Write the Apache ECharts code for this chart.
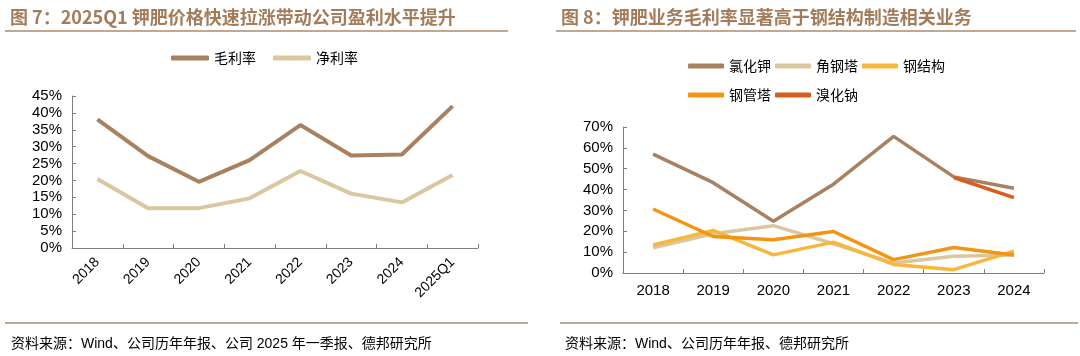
<!DOCTYPE html>
<html><head><meta charset="utf-8">
<script src="https://cdn.jsdelivr.net/npm/echarts@6/dist/echarts.min.js"></script>
<style>html,body{margin:0;padding:0;background:#fff}#c{width:1080px;height:356px}</style>
</head><body><div id="c"></div>
<script>
// Left chart data
const leftCategories = ['2018','2019','2020','2021','2022','2023','2024','2025Q1'];
const grossMargin = [38.1, 27.2, 19.6, 26.0, 36.4, 27.4, 27.7, 42.0];
const netMargin = [20.4, 11.8, 11.8, 14.7, 22.8, 16.1, 13.5, 21.6];
// Right chart data
const rightCategories = ['2018','2019','2020','2021','2022','2023','2024'];
const kcl = [57.0, 43.3, 24.8, 42.6, 65.5, 46.1, 40.6];
const angleTower = [12.1, 18.8, 22.7, 14.0, 4.8, 8.0, 8.6];
const steelStructure = [13.4, 20.4, 8.7, 14.8, 4.1, 1.6, 10.5];
const pipeTower = [30.7, 17.5, 15.9, 19.9, 6.4, 12.2, 8.6];
const nabr = [null, null, null, null, null, 45.8, 36.1];

const brown = '#A88160', beige = '#D9C7A0', yellow = '#F6B73C', orange = '#F39512', red = '#D85B1F';
const titleColor = '#A27C5B';
const cjk = "'Noto Sans CJK SC', sans-serif";
const num = "'Liberation Sans', Arial, sans-serif";

const chart = echarts.init(document.getElementById('c'), null, {renderer: 'canvas'});
const axisLine = {show: true, lineStyle: {color: '#7f7f7f', width: 1}};
const yLabel = {formatter: '{value}%', color: '#000', fontFamily: num, fontSize: 15, margin: 10};
const srcStyle = {color: '#000', fontSize: 14, fontWeight: 'normal', fontFamily: "'Liberation Sans', " + cjk};
chart.setOption({
  animation: false,
  title: [
    {text: '图 7：2025Q1 钾肥价格快速拉涨带动公司盈利水平提升', left: 5, top: 3,
     textStyle: {color: titleColor, fontSize: 18, fontWeight: 'bold', fontFamily: cjk}},
    {text: '图 8：钾肥业务毛利率显著高于钢结构制造相关业务', left: 556, top: 3,
     textStyle: {color: titleColor, fontSize: 18, fontWeight: 'bold', fontFamily: cjk}},
    {text: '资料来源：Wind、公司历年年报、公司 2025 年一季报、德邦研究所', left: 6, top: 332, textStyle: srcStyle},
    {text: '资料来源：Wind、公司历年年报、德邦研究所', left: 560, top: 332, textStyle: srcStyle}
  ],
  graphic: [
    {type: 'line', shape: {x1: 5, y1: 31, x2: 508, y2: 31}, style: {stroke: '#B08A68', lineWidth: 1.5}},
    {type: 'line', shape: {x1: 556, y1: 31, x2: 1076, y2: 31}, style: {stroke: '#B08A68', lineWidth: 1.5}},
    {type: 'line', shape: {x1: 5, y1: 323, x2: 528, y2: 323}, style: {stroke: '#B08A68', lineWidth: 1.5}},
    {type: 'line', shape: {x1: 560, y1: 323, x2: 1078, y2: 323}, style: {stroke: '#B08A68', lineWidth: 1.5}}
  ],
  legend: [
    {data: ['毛利率', '净利率'], left: 166, top: 46, itemWidth: 38, itemHeight: 5, itemGap: 17, icon: 'roundRect',
     textStyle: {fontFamily: cjk, fontSize: 14, color: '#000'}},
    {data: ['氯化钾', '角钢塔', '钢结构'], left: 683, top: 54, itemWidth: 36, itemHeight: 5, itemGap: 4, icon: 'roundRect',
     textStyle: {fontFamily: cjk, fontSize: 14, color: '#000'}},
    {data: ['钢管塔', '溴化钠'], left: 683, top: 83, itemWidth: 36, itemHeight: 5, itemGap: 4, icon: 'roundRect',
     textStyle: {fontFamily: cjk, fontSize: 14, color: '#000'}}
  ],
  grid: [
    {left: 72, right: 602, top: 96, bottom: 108},
    {left: 623, right: 36, top: 127, bottom: 83}
  ],
  xAxis: [
    {type: 'category', gridIndex: 0, data: leftCategories, boundaryGap: true, axisLine,
     axisTick: {show: true, inside: true, length: 4, lineStyle: {color: '#7f7f7f'}},
     axisLabel: {rotate: 45, color: '#000', fontFamily: num, fontSize: 14, margin: 12, interval: 0}},
    {type: 'category', gridIndex: 1, data: rightCategories, boundaryGap: true, axisLine,
     axisTick: {show: true, inside: true, length: 4, lineStyle: {color: '#7f7f7f'}},
     axisLabel: {color: '#000', fontFamily: num, fontSize: 15, margin: 10, interval: 0}}
  ],
  yAxis: [
    {type: 'value', gridIndex: 0, min: 0, max: 45, interval: 5, axisLine,
     axisTick: {show: true, inside: true, length: 4, lineStyle: {color: '#7f7f7f'}},
     splitLine: {show: false}, axisLabel: yLabel},
    {type: 'value', gridIndex: 1, min: 0, max: 70, interval: 10, axisLine,
     axisTick: {show: true, inside: true, length: 4, lineStyle: {color: '#7f7f7f'}},
     splitLine: {show: false}, axisLabel: yLabel}
  ],
  series: [
    {name: '毛利率', type: 'line', xAxisIndex: 0, yAxisIndex: 0, data: grossMargin, symbol: 'none',
     lineStyle: {color: brown, width: 4}, itemStyle: {color: brown}},
    {name: '净利率', type: 'line', xAxisIndex: 0, yAxisIndex: 0, data: netMargin, symbol: 'none',
     lineStyle: {color: beige, width: 4}, itemStyle: {color: beige}},
    {name: '氯化钾', type: 'line', xAxisIndex: 1, yAxisIndex: 1, data: kcl, symbol: 'none',
     lineStyle: {color: brown, width: 3.5}, itemStyle: {color: brown}},
    {name: '角钢塔', type: 'line', xAxisIndex: 1, yAxisIndex: 1, data: angleTower, symbol: 'none',
     lineStyle: {color: beige, width: 3.5}, itemStyle: {color: beige}},
    {name: '钢结构', type: 'line', xAxisIndex: 1, yAxisIndex: 1, data: steelStructure, symbol: 'none',
     lineStyle: {color: yellow, width: 3.5}, itemStyle: {color: yellow}},
    {name: '钢管塔', type: 'line', xAxisIndex: 1, yAxisIndex: 1, data: pipeTower, symbol: 'none',
     lineStyle: {color: orange, width: 3.5}, itemStyle: {color: orange}},
    {name: '溴化钠', type: 'line', xAxisIndex: 1, yAxisIndex: 1, data: nabr, symbol: 'none',
     lineStyle: {color: red, width: 3.5}, itemStyle: {color: red}}
  ]
});
</script></body></html>
